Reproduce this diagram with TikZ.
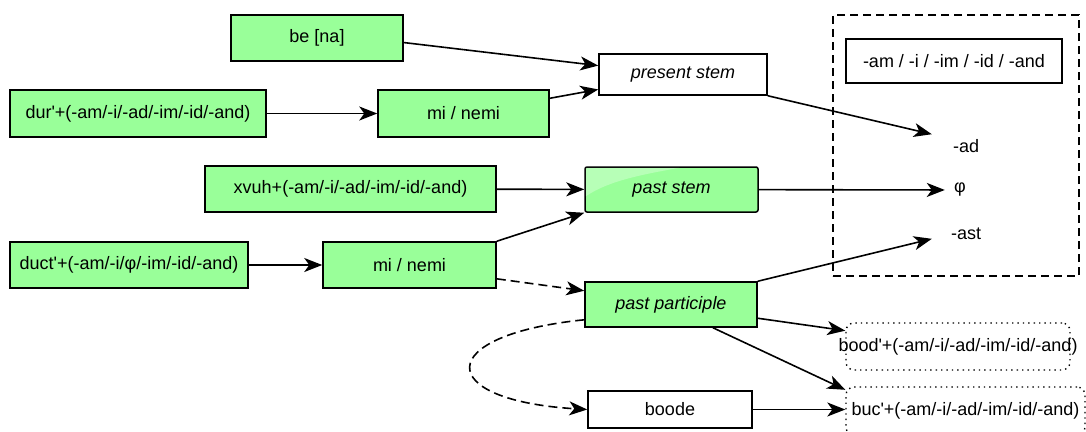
\documentclass[tikz,border=0pt]{standalone}
\usepackage{fontspec}
\setmainfont{Liberation Sans}
\usetikzlibrary{arrows.meta}
\definecolor{leaf}{HTML}{99FF99}
\newcommand{\ap}{\textquotesingle}
\begin{document}
\begin{tikzpicture}[x=1pt, y=-1pt,
  font=\fontsize{18}{21}\selectfont,
  box/.style={draw, line width=1.5pt, inner sep=0pt},
  greenbox/.style={box, fill=leaf},
  whitebox/.style={box, fill=white},
  dotbox/.style={draw, line width=1.4pt, dash pattern=on 1.4pt off 4pt,
    rounded corners=8pt, inner sep=0pt},
  suffix/.style={inner sep=0pt, minimum width=68pt, minimum height=30pt},
  link/.style={line width=1.6pt, -{Stealth[length=18pt, width=14pt, inset=5pt]}},
  dashlink/.style={link, dash pattern=on 9pt off 5pt},
]
\useasboundingbox (0,0) rectangle (1086,431);

% container of the personal endings
\node[draw, line width=1.5pt, dash pattern=on 8pt off 5pt,
  minimum width=246pt, minimum height=261pt] (frame) at (956,145.5) {};
\node[whitebox, minimum width=216pt, minimum height=44pt] (endings) at (954,61)
  {-am / -i / -im / -id / -and};
\node[suffix] (ad) at (966,146) {-ad};
\node[inner sep=0pt, minimum width=30pt, minimum height=30pt] (phi) at (960,190) {φ};
\node[suffix] (ast) at (966,234) {-ast};

% stems and forms
\node[greenbox, minimum width=172pt, minimum height=46pt] (be) at (317,38) {be [na]};
\node[greenbox, minimum width=256pt, minimum height=47pt] (dur) at (138,113.5)
  {dur\ap+(-am/-i/-ad/-im/-id/-and)};
\node[greenbox, minimum width=171pt, minimum height=47pt] (mt) at (463.5,113.5) {mi / nemi};
\node[whitebox, minimum width=168pt, minimum height=41pt] (ps) at (683,74.5) {\itshape present stem};

\node[greenbox, minimum width=291pt, minimum height=46pt] (xvuh) at (350.5,189)
  {xvuh+(-am/-i/-ad/-im/-id/-and)};
\node[greenbox, rounded corners=2pt, minimum width=173pt, minimum height=45pt] (pst)
  at (671.5,189.5) {};
\fill[white, opacity=0.3] ([shift={(1.5,1.5)}]pst.north west)
  -- ([shift={(95,1.5)}]pst.north west)
  .. controls ([shift={(60,8)}]pst.north west) and ([shift={(25,14)}]pst.north west)
  .. ([shift={(1.5,30)}]pst.north west) -- cycle;
\node at (pst) {\itshape past stem};

\node[greenbox, minimum width=238pt, minimum height=46pt] (duct) at (129,265)
  {duct\ap+(-am/-i/φ/-im/-id/-and)};
\node[greenbox, minimum width=173pt, minimum height=46pt] (mb) at (409.5,265) {mi / nemi};
\node[greenbox, minimum width=172pt, minimum height=45pt] (pp) at (671,304.5)
  {\itshape past participle};
\node[whitebox, minimum width=164pt, minimum height=37pt] (boode) at (670,409.5) {boode};

\node[dotbox, minimum width=224pt, minimum height=47pt] (bood) at (958,346.5)
  {\makebox[0pt]{bood\ap+(-am/-i/-ad/-im/-id/-and)}};
\node[dotbox, minimum width=239pt, minimum height=48pt] (buc) at (965.5,411)
  {\makebox[0pt]{buc\ap+(-am/-i/-ad/-im/-id/-and)}};

% connectors
\draw[link] (be.-3) -- (ps.174);
\draw[link] (dur) -- (mt);
\draw[link] (mt.10) -- (ps.190);
\draw[link] (ps.south east) -- (ad.161);
\draw[link] (xvuh) -- (pst);
\draw[link] (mb.north east) -- (pst.south west);
\draw[link] (pst) -- (phi);
\draw[link] (duct) -- (mb);
\draw[dashlink] (mb.-9) -- (pp.171);
\draw[link] (pp.north east) -- (ast.188);
\draw[link] (pp.-9) -- (bood.172);
\draw[link] (pp.-29) -- (buc.170);
\draw[dashlink] (pp.190) .. controls (433,335) and (433,400) .. (boode.west);
\draw[link] (boode.east) -- (boode.east -| buc.west);
\end{tikzpicture}
\end{document}
